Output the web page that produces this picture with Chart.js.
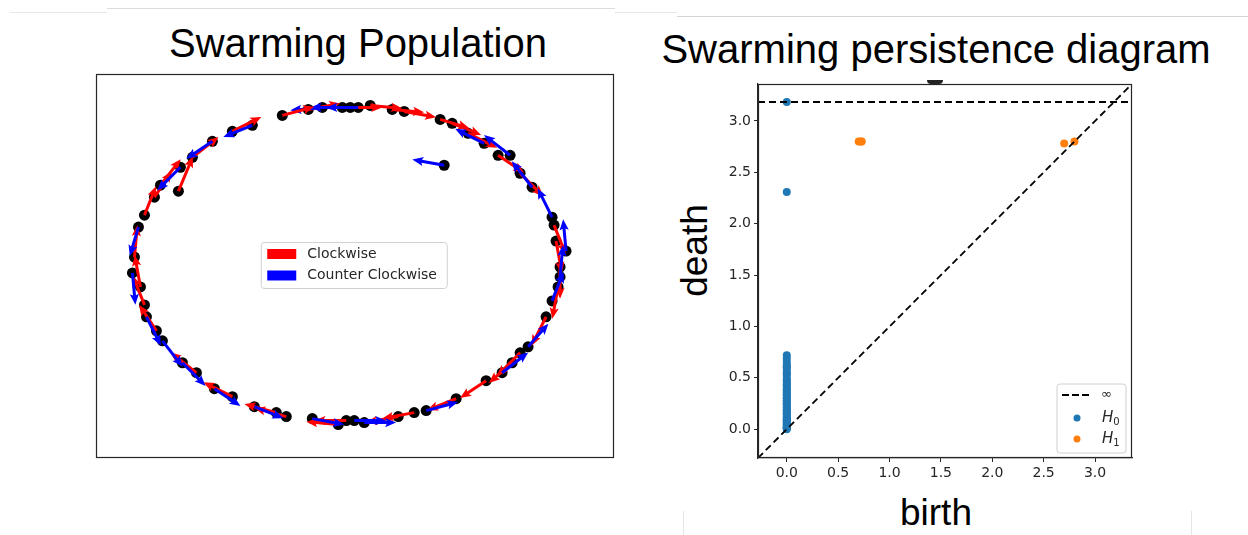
<!DOCTYPE html>
<html>
<head>
<meta charset="utf-8">
<script src="https://cdn.jsdelivr.net/npm/chart.js@4.4.1/dist/chart.umd.min.js"></script>
<style>
html, body { margin: 0; padding: 0; background: #fff; }
body { width: 1248px; height: 535px; position: relative; overflow: hidden; font-family: "Liberation Sans", Arial, sans-serif; }
canvas { position: absolute; }
.title { position: absolute; width: 600px; text-align: center; font-size: 40px; line-height: 40px; color: #000; white-space: nowrap; }
.axlabel { position: absolute; width: 200px; height: 37px; text-align: center; font-size: 37px; line-height: 37px; color: #000; }
.rule { position: absolute; background: #dcdcdc; }
</style>
</head>
<body>
<div class="rule" style="left:10px;top:12px;width:97px;height:1px;background:#e8e8e8"></div>
<div class="rule" style="left:107px;top:8px;width:508px;height:1px"></div>
<div class="rule" style="left:615px;top:12px;width:62px;height:1px;background:#e8e8e8"></div>
<div class="rule" style="left:677px;top:16px;width:571px;height:1px;background:#d4d4d4"></div>
<div class="rule" style="left:683px;top:511px;width:1px;height:24px;background:#e4e4e4"></div>
<div class="rule" style="left:1191px;top:511px;width:1px;height:24px;background:#e4e4e4"></div>

<div class="title" style="left:58px;top:23px">Swarming Population</div>
<div class="title" style="left:636px;top:29px">Swarming persistence diagram</div>
<div class="axlabel" style="left:594px;top:232px;transform:rotate(-90deg)">death</div>
<div class="axlabel" style="left:836px;top:494px">birth</div>
<div style="position:absolute;left:927px;top:80px;width:16px;height:4px;background:#222;border-radius:0 0 8px 8px"></div>

<canvas id="swarm" width="530" height="395" style="left:90px;top:68px"></canvas>
<canvas id="pd" width="440" height="423" style="left:700px;top:70px"></canvas>

<script>
// ---- left panel: agent positions and heading vectors ----
const swarmX = [-0.23, -0.16, -0.06, -0.02, 0.02, 0.08, 0.19, 0.25, 0.43, 0.49,
  0.57, 0.65, 0.72, 0.78, 0.83, 0.89, 0.99, 1.00, 1.01, 1.06,
  1.03, 1.03, 1.02, 0.99, 0.96, 0.87, 0.83, 0.79, 0.74, 0.66,
  0.51, 0.36, 0.30, 0.22, 0.05, 0.00, -0.04, -0.08, -0.21, -0.34,
  -0.39, -0.50, -0.61, -0.70, -0.79, -0.86, -0.96, -0.99, -1.04, -1.05,
  -1.07, -1.11, -1.10, -1.08, -1.05, -1.00, -0.97, -0.88, -0.87, -0.81,
  -0.71, -0.61, -0.51, -0.36, 0.45];
const swarmY = [0.78, 0.79, 0.79, 0.79, 0.79, 0.80, 0.78, 0.77, 0.73, 0.71,
  0.66, 0.61, 0.55, 0.55, 0.46, 0.39, 0.24, 0.20, 0.12, 0.07,
  -0.01, -0.06, -0.11, -0.18, -0.26, -0.41, -0.44, -0.49, -0.54, -0.58,
  -0.67, -0.73, -0.74, -0.76, -0.79, -0.78, -0.78, -0.80, -0.77, -0.76,
  -0.74, -0.71, -0.66, -0.62, -0.54, -0.49, -0.38, -0.33, -0.26, -0.20,
  -0.11, -0.04, 0.04, 0.19, 0.25, 0.34, 0.40, 0.37, 0.49, 0.54,
  0.62, 0.67, 0.70, 0.75, 0.50];
const headingU = [0.11, -0.11, -0.11, 0.11, -0.11, 0.11, 0.11, 0.11, 0.10, 0.10,
  0.10, -0.10, 0.09, -0.09, 0.08, -0.07, -0.05, 0.04, 0.02, -0.01,
  0.00, 0.01, -0.02, 0.04, -0.05, 0.07, -0.08, -0.08, 0.09, -0.09,
  -0.10, 0.11, -0.11, -0.11, 0.11, 0.11, -0.11, -0.11, 0.11, -0.11,
  -0.11, 0.10, -0.10, 0.09, -0.09, 0.08, 0.07, -0.06, 0.05, -0.04,
  -0.02, 0.01, 0.01, -0.03, 0.04, 0.06, 0.07, 0.05, -0.08, 0.09,
  -0.09, 0.10, -0.10, 0.11, -0.11];
const headingV = [0.02, -0.01, 0.00, 0.00, 0.00, -0.01, -0.01, -0.02, -0.03, -0.04,
  -0.05, 0.05, -0.06, 0.07, -0.08, 0.09, 0.10, -0.10, -0.11, 0.11,
  -0.11, 0.11, -0.11, 0.10, -0.10, 0.08, -0.08, -0.07, 0.07, -0.06,
  -0.04, 0.03, -0.02, -0.02, 0.00, 0.00, 0.00, 0.01, -0.02, 0.03,
  0.03, -0.04, 0.05, -0.06, 0.07, -0.08, -0.09, 0.09, -0.10, 0.10,
  0.11, -0.11, 0.11, -0.10, 0.10, 0.09, 0.09, 0.12, -0.08, 0.07,
  -0.06, 0.05, -0.04, 0.03, 0.02];
const headingDir = ['cw', 'ccw', 'ccw', 'cw', 'ccw', 'cw', 'cw', 'cw', 'cw', 'cw',
  'cw', 'ccw', 'cw', 'ccw', 'cw', 'ccw', 'ccw', 'cw', 'cw', 'ccw',
  'cw', 'ccw', 'cw', 'ccw', 'cw', 'ccw', 'cw', 'cw', 'ccw', 'cw',
  'cw', 'ccw', 'cw', 'cw', 'ccw', 'ccw', 'cw', 'cw', 'ccw', 'cw',
  'cw', 'ccw', 'cw', 'ccw', 'cw', 'ccw', 'ccw', 'cw', 'ccw', 'cw',
  'cw', 'ccw', 'cw', 'ccw', 'cw', 'cw', 'cw', 'cw', 'ccw', 'cw',
  'ccw', 'cw', 'ccw', 'cw', 'ccw'];
const swarmLabels = ['Clockwise', 'Counter Clockwise'];
const swarmXRange = [-1.295, 1.295];
const swarmYRange = [-0.965, 0.96];

// ---- right panel: persistence pairs ----
const h0Birth = [0, 0, 0, 0, 0, 0, 0, 0, 0, 0, 0, 0, 0, 0, 0, 0, 0, 0, 0, 0,
  0, 0, 0, 0, 0, 0, 0, 0, 0, 0, 0, 0, 0, 0, 0, 0, 0, 0, 0, 0,
  0, 0, 0, 0, 0, 0, 0, 0, 0, 0];
const h0Death = [3.185, 2.31, 0.72, 0.69, 0.66, 0.63, 0.61, 0.60, 0.58, 0.55,
  0.54, 0.52, 0.49, 0.48, 0.46, 0.44, 0.43, 0.41, 0.39, 0.38,
  0.36, 0.34, 0.33, 0.31, 0.30, 0.28, 0.27, 0.25, 0.24, 0.22,
  0.21, 0.19, 0.18, 0.17, 0.15, 0.14, 0.12, 0.11, 0.10, 0.09,
  0.08, 0.07, 0.06, 0.05, 0.04, 0.03, 0.02, 0.015, 0.01, 0.00];
const h1Birth = [0.70, 0.72, 0.73, 2.70, 2.80];
const h1Death = [2.80, 2.80, 2.80, 2.78, 2.80];
const infDeath = 3.185;
const pdRange = [-0.28, 3.36];
const pdTicks = [0, 0.5, 1, 1.5, 2, 2.5, 3];
const pdLabels = ['∞', 'H0', 'H1'];

const RED = '#ff0000', BLUE = '#0000ff', C0 = '#1f77b4', C1 = '#ff7f0e';
const INK = '#262626';
const QUIVER_SCALE = 1.45;

function drawArrow(ctx, x0, y0, x1, y1, color) {
  const dx = x1 - x0, dy = y1 - y0;
  const L = Math.hypot(dx, dy);
  const ux = dx / L, uy = dy / L, nx = -uy, ny = ux;
  const w = 1.5, hw = 4.6, hl = 11, ha = 9.5;
  const p = (a, b) => [x0 + ux * a + nx * b, y0 + uy * a + ny * b];
  const pts = [p(0, w), p(L - ha, w), p(L - hl, hw), p(L, 0), p(L - hl, -hw), p(L - ha, -w), p(0, -w)];
  ctx.beginPath();
  ctx.moveTo(pts[0][0], pts[0][1]);
  for (let i = 1; i < pts.length; i++) ctx.lineTo(pts[i][0], pts[i][1]);
  ctx.closePath();
  ctx.fillStyle = color;
  ctx.fill();
}

function roundRect(ctx, x, y, w, h, r) {
  ctx.beginPath();
  ctx.moveTo(x + r, y);
  ctx.arcTo(x + w, y, x + w, y + h, r);
  ctx.arcTo(x + w, y + h, x, y + h, r);
  ctx.arcTo(x, y + h, x, y, r);
  ctx.arcTo(x, y, x + w, y, r);
  ctx.closePath();
}

// arrows on top of the agents
const quiver = {
  id: 'quiver',
  afterDatasetsDraw(chart) {
    const { ctx, scales: { x, y } } = chart;
    ctx.save();
    for (let i = 0; i < swarmX.length; i++) {
      const x0 = x.getPixelForValue(swarmX[i]);
      const y0 = y.getPixelForValue(swarmY[i]);
      const x1 = x.getPixelForValue(swarmX[i] + headingU[i] * QUIVER_SCALE);
      const y1 = y.getPixelForValue(swarmY[i] + headingV[i] * QUIVER_SCALE);
      drawArrow(ctx, x0, y0, x1, y1, headingDir[i] === 'cw' ? RED : BLUE);
    }
    ctx.restore();
  }
};

const frame = {
  id: 'frame',
  afterDraw(chart) {
    const { ctx, chartArea: a } = chart;
    ctx.save();
    ctx.strokeStyle = INK;
    ctx.lineWidth = 1.2;
    ctx.strokeRect(Math.round(a.left) + 0.5, Math.round(a.top) + 0.5, Math.round(a.width) - 1, Math.round(a.height) - 1);
    ctx.restore();
  }
};

// legend in the middle of the left panel
const swarmLegend = {
  id: 'swarmLegend',
  afterDraw(chart) {
    const { ctx, chartArea: a } = chart;
    const bw = 186, bh = 46;
    const bx = (a.left + a.right) / 2 - bw / 2, by = (a.top + a.bottom) / 2 - bh / 2;
    ctx.save();
    roundRect(ctx, bx, by, bw, bh, 3);
    ctx.fillStyle = 'rgba(255,255,255,0.8)';
    ctx.fill();
    ctx.strokeStyle = '#d0d0d0';
    ctx.lineWidth = 1;
    ctx.stroke();
    ctx.font = '14px "DejaVu Sans"';
    ctx.textBaseline = 'middle';
    [RED, BLUE].forEach((c, i) => {
      const cy = by + 11.5 + i * 21.5;
      ctx.fillStyle = c;
      ctx.fillRect(bx + 6, cy - 5, 29, 10);
      ctx.fillStyle = INK;
      ctx.fillText(swarmLabels[i], bx + 46, cy);
    });
    ctx.restore();
  }
};

new Chart(document.getElementById('swarm'), {
  type: 'scatter',
  data: {
    datasets: [{
      data: swarmX.map((v, i) => ({ x: v, y: swarmY[i] })),
      backgroundColor: '#000',
      borderWidth: 0,
      pointRadius: 5.5
    }]
  },
  options: {
    responsive: false,
    devicePixelRatio: 1,
    animation: false,
    events: [],
    layout: { padding: { left: 5, top: 5, right: 7, bottom: 5 } },
    plugins: { legend: { display: false }, tooltip: { enabled: false } },
    scales: {
      x: { display: false, min: swarmXRange[0], max: swarmXRange[1] },
      y: { display: false, min: swarmYRange[0], max: swarmYRange[1] }
    }
  },
  plugins: [quiver, frame, swarmLegend]
});

// legend in the lower right of the diagram
const pdLegend = {
  id: 'pdLegend',
  afterDraw(chart) {
    const { ctx, chartArea: a } = chart;
    const bw = 69, bh = 69;
    const bx = a.right - 6 - bw, by = a.bottom - 5 - bh;
    ctx.save();
    roundRect(ctx, bx, by, bw, bh, 3);
    ctx.fillStyle = 'rgba(255,255,255,0.8)';
    ctx.fill();
    ctx.strokeStyle = '#d0d0d0';
    ctx.lineWidth = 1;
    ctx.stroke();
    ctx.textBaseline = 'middle';
    // infinity line entry
    let cy = by + 11;
    ctx.strokeStyle = '#000';
    ctx.lineWidth = 1.8;
    ctx.setLineDash([7, 3]);
    ctx.beginPath();
    ctx.moveTo(bx + 5, cy);
    ctx.lineTo(bx + 34, cy);
    ctx.stroke();
    ctx.setLineDash([]);
    ctx.fillStyle = INK;
    ctx.font = '13px "DejaVu Sans"';
    ctx.fillText(pdLabels[0], bx + 44, cy);
    [C0, C1].forEach((c, i) => {
      cy = by + 34 + i * 21;
      ctx.beginPath();
      ctx.arc(bx + 20, cy, 3.5, 0, Math.PI * 2);
      ctx.fillStyle = c;
      ctx.fill();
      ctx.fillStyle = INK;
      ctx.font = 'italic 15px "DejaVu Sans"';
      ctx.fillText(pdLabels[i + 1][0], bx + 45, cy);
      const hw = ctx.measureText(pdLabels[i + 1][0]).width;
      ctx.font = '10px "DejaVu Sans"';
      ctx.fillText(pdLabels[i + 1].slice(1), bx + 45 + hw, cy + 4);
    });
    ctx.restore();
  }
};

const axisOpts = {
  type: 'linear',
  min: pdRange[0],
  max: pdRange[1],
  afterBuildTicks: s => { s.ticks = pdTicks.map(v => ({ value: v })); },
  ticks: {
    callback: v => Number(v).toFixed(1),
    font: { family: 'DejaVu Sans', size: 14 },
    color: INK,
    padding: 3,
    maxRotation: 0,
    autoSkip: false
  },
  grid: { drawOnChartArea: false, tickLength: 4, color: INK },
  border: { color: INK, width: 1.2 }
};

new Chart(document.getElementById('pd'), {
  type: 'scatter',
  data: {
    datasets: [
      {
        data: [{ x: pdRange[0], y: infDeath }, { x: pdRange[1], y: infDeath }],
        showLine: true, borderColor: '#000', borderWidth: 1.8, borderDash: [7, 4], pointRadius: 0
      },
      {
        data: [{ x: pdRange[0], y: pdRange[0] }, { x: pdRange[1], y: pdRange[1] }],
        showLine: true, borderColor: '#000', borderWidth: 1.8, borderDash: [7, 4], pointRadius: 0
      },
      {
        data: h0Birth.map((b, i) => ({ x: b, y: h0Death[i] })),
        backgroundColor: C0, borderWidth: 0, pointRadius: 4
      },
      {
        data: h1Birth.map((b, i) => ({ x: b, y: h1Death[i] })),
        backgroundColor: C1, borderWidth: 0, pointRadius: 4
      }
    ]
  },
  options: {
    responsive: false,
    devicePixelRatio: 1,
    animation: false,
    events: [],
    layout: { padding: { left: 0, top: 14, right: 8, bottom: 0 } },
    plugins: { legend: { display: false }, tooltip: { enabled: false } },
    scales: {
      x: Object.assign({}, axisOpts, { afterFit: s => { s.height = 35; } }),
      y: Object.assign({}, axisOpts, { afterFit: s => { s.width = 58; } })
    }
  },
  plugins: [frame, pdLegend]
});
</script>
</body>
</html>
